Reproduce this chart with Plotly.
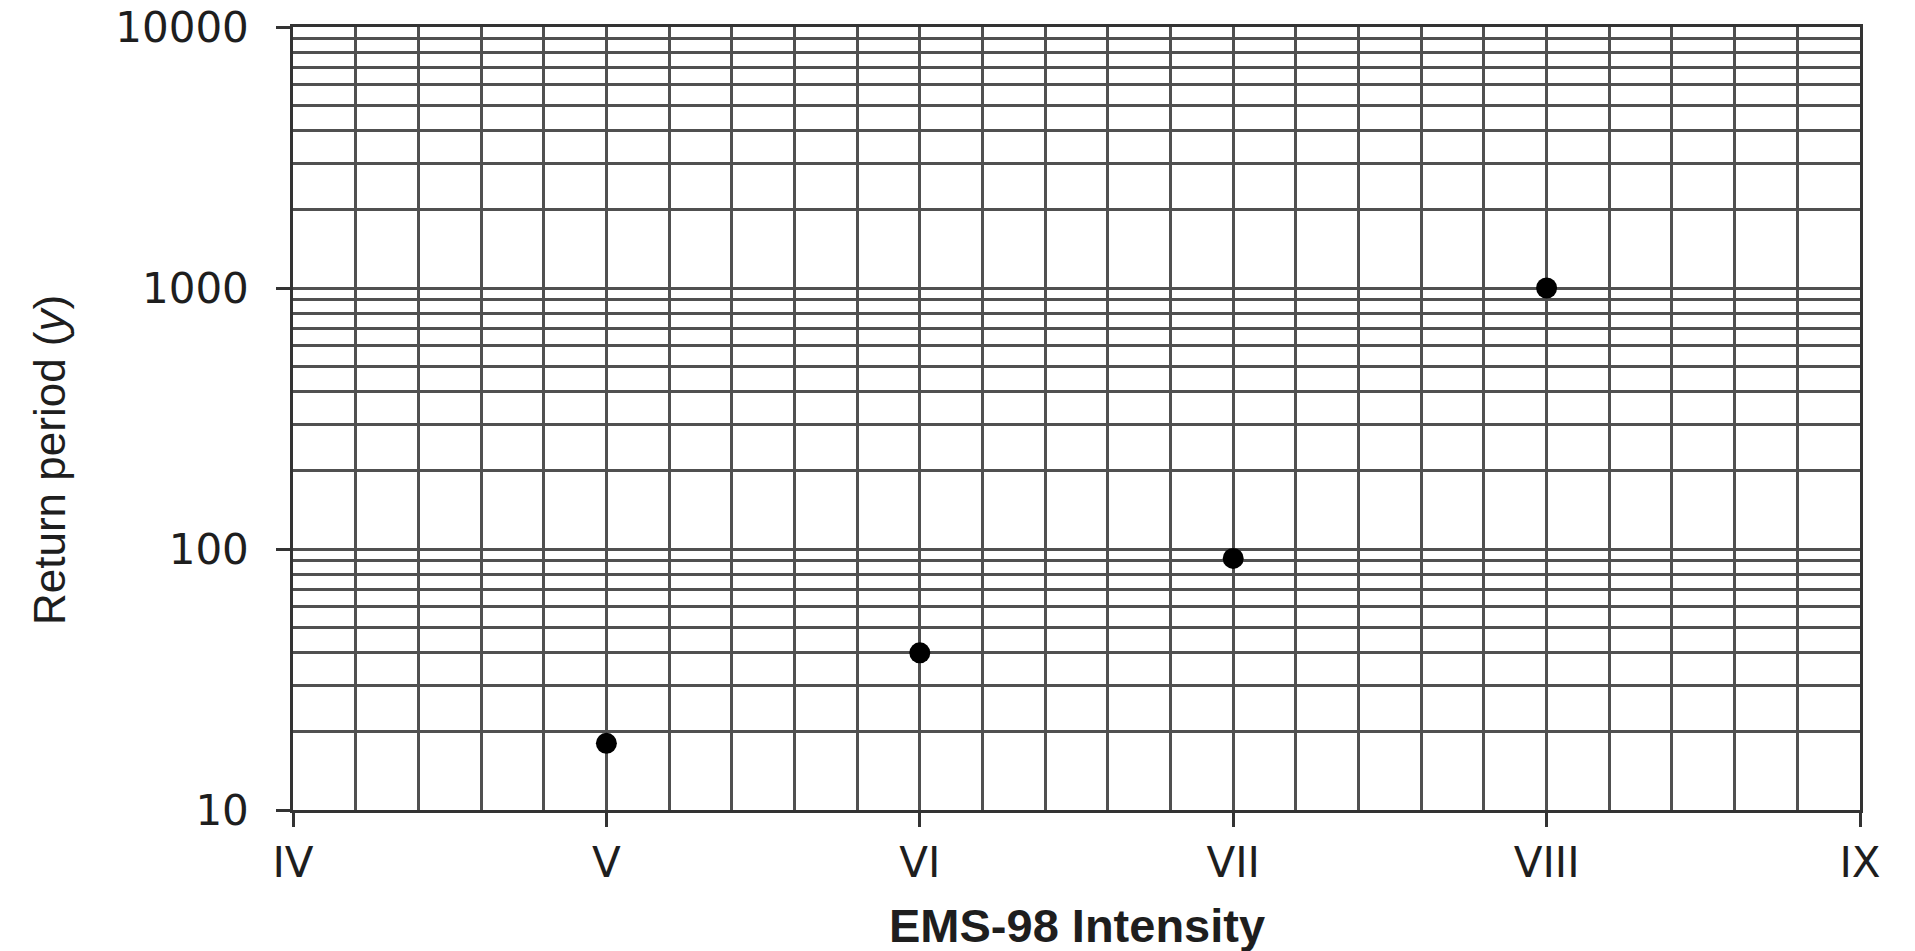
import plotly.graph_objects as go

# Data
intensity_ticks = [4, 5, 6, 7, 8, 9]
intensity_labels = ["IV", "V", "VI", "VII", "VIII", "IX"]
point_intensity = [5, 6, 7, 8]
return_period = [18, 40, 92, 1000]
period_ticks = [10, 100, 1000, 10000]
period_labels = ["10", "100", "1000", "10000"]
period_minor = [20, 30, 40, 50, 60, 70, 80, 90,
                200, 300, 400, 500, 600, 700, 800, 900,
                2000, 3000, 4000, 5000, 6000, 7000, 8000, 9000]

FONT = "Liberation Sans, Arial, sans-serif"
TICKFONT = "DejaVu Sans, Liberation Sans, sans-serif"
GRID = "#505050"
TXT = "#1e1e1e"

fig = go.Figure(
    go.Scatter(
        x=point_intensity,
        y=return_period,
        mode="markers",
        marker=dict(symbol="circle", size=21, color="black"),
        showlegend=False,
    )
)

fig.update_layout(
    width=1915,
    height=951,
    margin=dict(l=293, r=55, t=27, b=141, autoexpand=False),
    paper_bgcolor="white",
    plot_bgcolor="white",
    font=dict(family=FONT, size=42, color=TXT),
)

fig.update_xaxes(
    range=[4, 9],
    automargin=False,
    tickmode="array",
    tickvals=intensity_ticks,
    ticktext=intensity_labels,
    ticks="outside",
    ticklen=14,
    tickwidth=2.5,
    tickcolor="#333",
    tickfont=dict(family=TICKFONT, size=42, color=TXT),
    showgrid=True,
    gridcolor=GRID,
    gridwidth=2.5,
    minor=dict(dtick=0.2, showgrid=True, gridcolor=GRID, gridwidth=2.5, ticks=""),
    showline=True,
    linecolor="#333",
    linewidth=2.5,
    mirror=True,
    zeroline=False,
)

fig.update_yaxes(
    type="log",
    range=[1, 4],
    automargin=False,
    tickmode="array",
    tickvals=period_ticks,
    ticktext=period_labels,
    ticks="outside",
    ticklen=14,
    tickwidth=2.5,
    tickcolor="#333",
    ticklabelstandoff=19,
    tickfont=dict(family=TICKFONT, size=42, color=TXT),
    showgrid=True,
    gridcolor=GRID,
    gridwidth=2.5,
    minor=dict(tickmode="array", tickvals=period_minor, showgrid=True, gridcolor=GRID, gridwidth=2.5, ticks=""),
    showline=True,
    linecolor="#333",
    linewidth=2.5,
    mirror=True,
    zeroline=False,
)

# x-axis title, placed low as in the reference
fig.add_annotation(
    text="<b>EMS-98 Intensity</b>",
    xref="paper", yref="paper",
    x=0.5, y=(810 - 925.5) / 783,
    xanchor="center", yanchor="middle",
    showarrow=False,
    font=dict(family=FONT, size=47, color=TXT),
)

# y-axis title placed where the reference has it (slightly below plot centre)
fig.add_annotation(
    text="Return period (<i>y</i>)",
    xref="paper", yref="paper",
    x=(50 - 293) / 1567, y=(810 - 460) / 783,
    xanchor="center", yanchor="middle",
    textangle=-90,
    showarrow=False,
    font=dict(family=FONT, size=44, color=TXT),
)

fig.write_html("out.html")
